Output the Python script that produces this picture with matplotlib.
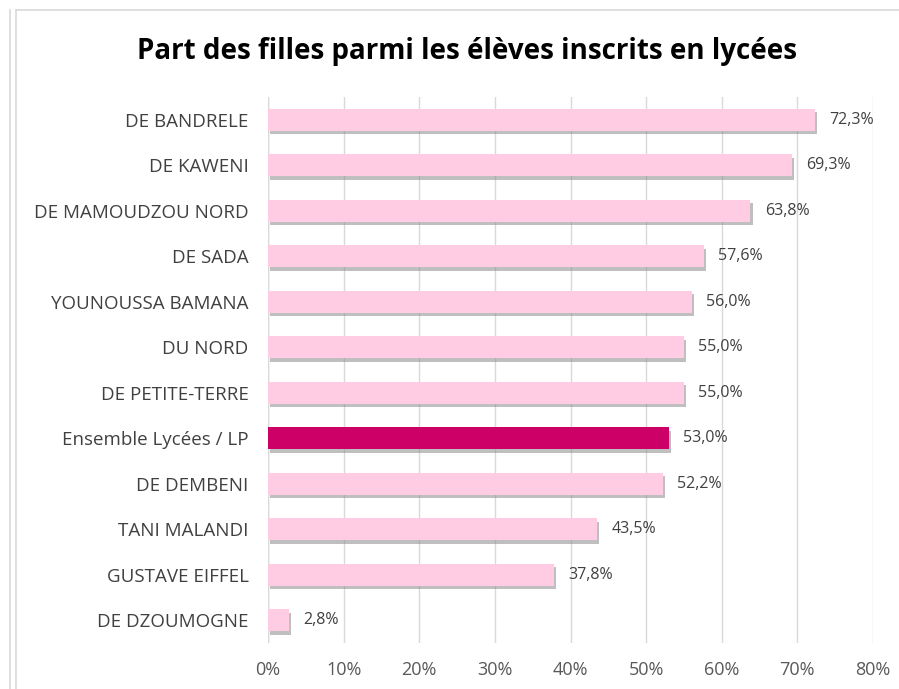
import matplotlib
matplotlib.use("Agg")
import matplotlib.pyplot as plt
import matplotlib.patheffects as pe
from matplotlib.lines import Line2D

categories = ["DE BANDRELE", "DE KAWENI", "DE MAMOUDZOU NORD", "DE SADA",
              "YOUNOUSSA BAMANA", "DU NORD", "DE PETITE-TERRE",
              "Ensemble Lycées / LP", "DE DEMBENI", "TANI MALANDI",
              "GUSTAVE EIFFEL", "DE DZOUMOGNE"]
values = [72.3, 69.3, 63.8, 57.6, 56.0, 55.0, 55.0, 53.0, 52.2, 43.5, 37.8, 2.8]
highlight = "Ensemble Lycées / LP"
xticks = [0, 10, 20, 30, 40, 50, 60, 70, 80]

plt.rcParams['font.family'] = ['Open Sans', 'DejaVu Sans']

fig = plt.figure(figsize=(8.99, 6.89), dpi=100)
ax = fig.add_axes([268/899, (689-643)/689, (873-268)/899, (643-97)/689])

ypos = list(range(len(categories)))[::-1]
colors = ["#CC0066" if c == highlight else "#FFCCE3" for c in categories]
bars = ax.barh(ypos, values, height=0.48, color=colors, zorder=3)
for b in bars:
    b.set_path_effects([pe.SimplePatchShadow(offset=(1.5, -2.5), shadow_rgbFace="#8c8c8c", alpha=0.55), pe.Normal()])

for y, v in zip(ypos, values):
    ax.text(v + 1.9, y, f"{v:.1f}%".replace(".", ","), va="center", ha="left",
            fontsize=11.5, color="#404040")

ax.set_xlim(0, 80)
ax.set_ylim(-0.5, len(categories) - 0.5)
ax.set_xticks(xticks)
ax.set_xticklabels([f"{t}%" for t in xticks], fontsize=13, color="#595959")
ax.set_yticks(ypos)
ax.set_yticklabels(categories, fontsize=13.5, color="#404040")
ax.tick_params(axis="both", length=0)
ax.tick_params(axis="x", pad=13)
ax.tick_params(axis="y", pad=14)
ax.grid(axis="x", color="#d9d9d9", linewidth=1, zorder=0)
ax.axvline(0, color="#d9d9d9", linewidth=1, zorder=1)
for s in ax.spines.values():
    s.set_visible(False)

fig.text(467/899, 1 - 52/689, "Part des filles parmi les élèves inscrits en lycées",
         ha="center", va="center", fontsize=20, fontweight="bold", color="black")

# frame lines
fig.add_artist(Line2D([16/899, 1], [1 - 10/689, 1 - 10/689], color="#d9d9d9", lw=1.2, transform=fig.transFigure))
fig.add_artist(Line2D([16/899, 16/899], [0, 1 - 10/689], color="#d9d9d9", lw=1.2, transform=fig.transFigure))
fig.add_artist(Line2D([10/899, 10/899], [0, 1 - 10/689], color="#d9d9d9", lw=1.2, transform=fig.transFigure))

fig.savefig("out.png", dpi=100)
